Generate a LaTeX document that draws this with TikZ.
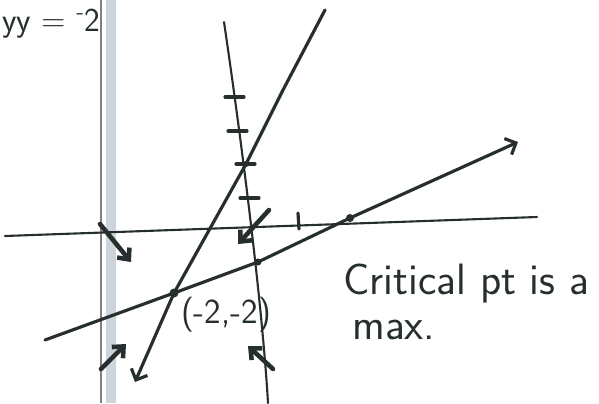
\documentclass[tikz,border=0pt]{standalone}
\usepackage{tikz}
\usetikzlibrary{arrows.meta}
\definecolor{ink}{RGB}{38,46,46}
\definecolor{margin}{RGB}{205,212,218}

\begin{document}
\begin{tikzpicture}[x=0.02cm, y=-0.02cm, font=\sffamily, ink,
    pen/.style={line width=1.8pt, line cap=round},
    thinpen/.style={line width=1.2pt, line cap=round},
    flow/.style={line width=2.6pt, line cap=round, -{Straight Barb[length=5pt, width=9pt]}},
    tip/.style={-{Straight Barb[length=5pt, width=10pt]}}]

    \useasboundingbox (0,0) rectangle (599,403);

    % 1. The margin of the notebook page
    \fill[margin] (106,0) rectangle (116,403);
    \draw[gray, line width=0.6pt] (101,0) -- (101,403);

    % 2. Define the coordinates
    \coordinate (Xl) at (5,236);
    \coordinate (Xr) at (537,217);
    \coordinate (Vt) at (224,22);
    \coordinate (Vb) at (268,403);
    \coordinate (St) at (325,10);
    \coordinate (Sb) at (135,382);
    \coordinate (Ll) at (45,340);
    \coordinate (Lr) at (518,142);
    \coordinate (P) at (174,293);
    \coordinate (Q) at (258,262);
    \coordinate (R) at (350,218);
    \coordinate (T) at (246,164);

    % 3. Draw the axis and the near vertical curve
    \draw[thinpen] (Xl) -- (Xr);
    \draw[thinpen] (Vt) .. controls (240,130) and (262,300) .. (Vb);

    % 4. Tick marks
    \foreach \y/\x in {97/235, 131/238, 164/246, 198/250}
        \draw[pen] (\x-10,\y) -- (\x+9,\y);
    \draw[pen] (298,213) -- (299,229);

    % 5. Draw the two lines
    \draw[pen, tip] (St) -- (283,90) -- (T) -- (P) -- (Sb);
    \draw[pen, tip] (Ll) -- (P) -- (Q) -- (R) -- (Lr);

    % 6. Plot the points
    \fill (P) circle (4.5);
    \fill (Q) circle (3.5);
    \fill (R) circle (4);
    \fill (T) circle (3);

    % 7. Flow arrows
    \draw[flow] (100,224) -- (131,262);
    \draw[flow] (269,210) -- (238,244);
    \draw[flow] (101,369) -- (126,344);
    \draw[flow] (273,369) -- (248,346);

    % 8. Labels
    \node[anchor=base west, inner sep=0pt, font=\sffamily\fontsize{19}{23}\selectfont] (eq) at (2,31) {yy = \textsuperscript{-}2};
    \node[font=\sffamily\fontsize{20}{24}\selectfont] (pt) at (226,315) {(-2,-2)};
    \node[anchor=base west, inner sep=0pt, font=\sffamily\fontsize{25}{30}\selectfont] (note) at (343,294) {Critical pt is a};
    \node[anchor=base west, inner sep=0pt, font=\sffamily\fontsize{25}{30}\selectfont] (max) at (352,339) {max.};

\end{tikzpicture}
\end{document}
